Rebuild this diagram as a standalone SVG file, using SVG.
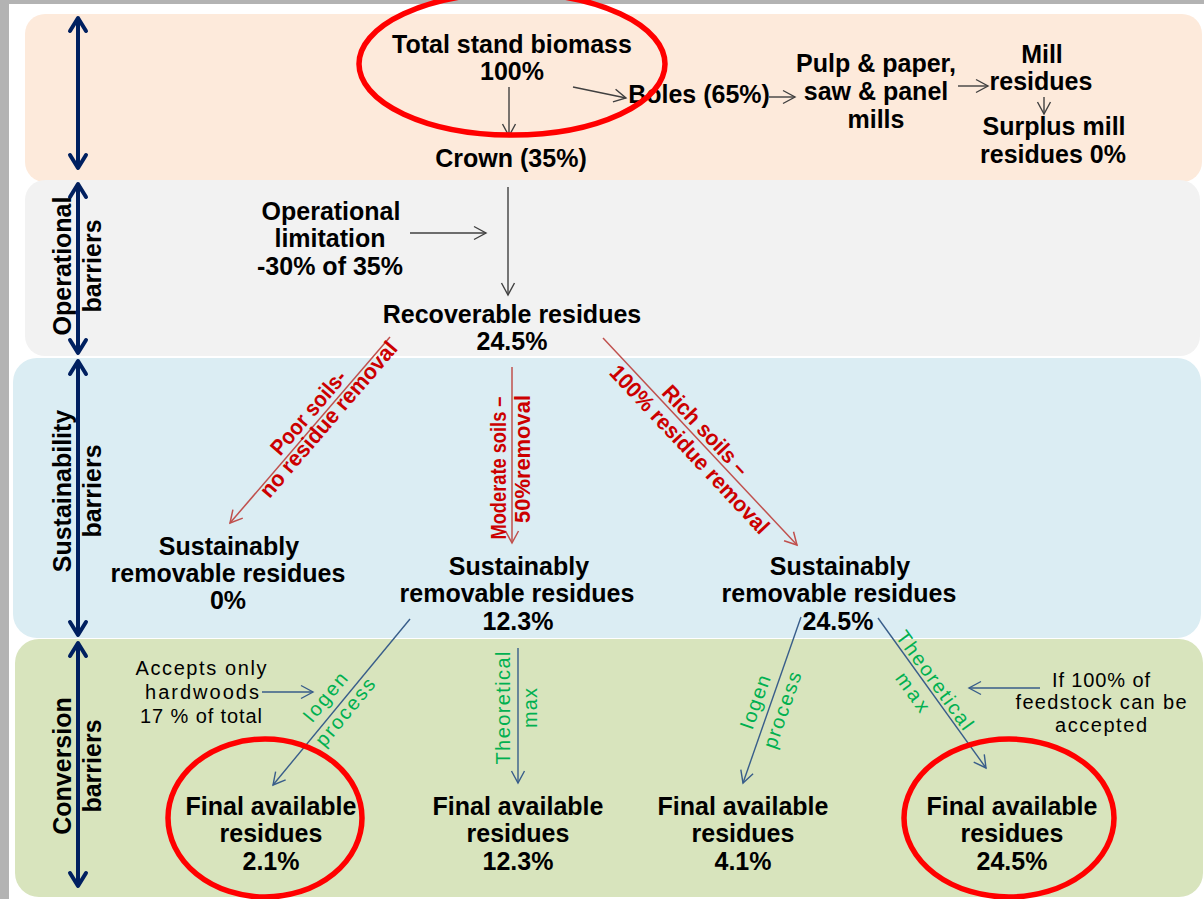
<svg xmlns="http://www.w3.org/2000/svg" width="1204" height="899" viewBox="0 0 1204 899">
  <style>
    .lbl { font-family: "Liberation Sans", Arial, sans-serif; font-weight: bold; font-size: 25px; fill: #000; text-anchor: middle; }
    .band { font-family: "Liberation Sans", Arial, sans-serif; font-weight: bold; font-size: 25px; fill: #000; text-anchor: middle; }
    .note { font-family: "Liberation Sans", Arial, sans-serif; font-size: 20px; fill: #000; text-anchor: middle; }
    .red { font-family: "Liberation Sans", Arial, sans-serif; font-weight: bold; font-size: 22px; fill: #cc0000; text-anchor: middle; }
    .grn { font-family: "Liberation Sans", Arial, sans-serif; font-size: 20px; fill: #00b050; text-anchor: middle; }
    .ln-k { stroke: #404040; stroke-width: 1.4; fill: none; marker-end: url(#ah-k); }
    .ln-r { stroke: #c0504d; stroke-width: 1.5; fill: none; marker-end: url(#ah-r); }
    .ln-b { stroke: #385d8a; stroke-width: 1.4; fill: none; marker-end: url(#ah-b); }
    .ln-n { stroke: #002060; stroke-width: 4; fill: none; marker-start: url(#ah-n); marker-end: url(#ah-n); }
    .ring { fill: none; stroke: #ff0000; stroke-width: 5.5; }
  </style>
  <defs>
    <marker id="ah-k" viewBox="0 0 14 14" refX="13" refY="7" markerWidth="14" markerHeight="14" markerUnits="userSpaceOnUse" orient="auto" overflow="visible">
      <path d="M1,0.5 L13,7 L1,13.5" fill="none" stroke="#404040" stroke-width="1.4"/>
    </marker>
    <marker id="ah-r" viewBox="0 0 14 14" refX="13" refY="7" markerWidth="14" markerHeight="14" markerUnits="userSpaceOnUse" orient="auto" overflow="visible">
      <path d="M1,0.5 L13,7 L1,13.5" fill="none" stroke="#c0504d" stroke-width="1.5"/>
    </marker>
    <marker id="ah-b" viewBox="0 0 14 14" refX="13" refY="7" markerWidth="14" markerHeight="14" markerUnits="userSpaceOnUse" orient="auto" overflow="visible">
      <path d="M1,0.5 L13,7 L1,13.5" fill="none" stroke="#385d8a" stroke-width="1.4"/>
    </marker>
    <marker id="ah-n" viewBox="0 0 18 18" refX="16" refY="9" markerWidth="18" markerHeight="18" markerUnits="userSpaceOnUse" orient="auto-start-reverse" overflow="visible">
      <path d="M3,1 L16,9 L3,17" fill="none" stroke="#002060" stroke-width="4" stroke-linecap="round" stroke-linejoin="round"/>
    </marker>
  </defs>

  <!-- page frame -->
  <rect x="0" y="0" width="1204" height="899" fill="#ffffff"/>
  <rect x="0" y="0" width="1204" height="4" fill="#b3b3b3"/>
  <rect x="0" y="0" width="9" height="899" fill="#b3b3b3"/>

  <!-- barrier bands -->
  <g id="bands">
    <rect id="band-stand" x="25" y="14" width="1177" height="168" rx="20" fill="#fdeadb"/>
    <rect id="band-operational" x="25" y="180" width="1175" height="176" rx="20" fill="#f2f2f2"/>
    <rect id="band-sustainability" x="13" y="358" width="1188" height="280" rx="24" fill="#dbedf3"/>
    <rect id="band-conversion" x="15" y="639" width="1188" height="258" rx="24" fill="#d8e4bd"/>
  </g>

  <!-- band extent arrows -->
  <g id="band-arrows">
    <line class="ln-n" x1="78" y1="18" x2="78" y2="168"/>
    <line class="ln-n" x1="78" y1="184" x2="78" y2="353"/>
    <line class="ln-n" x1="78" y1="361" x2="78" y2="635"/>
    <line class="ln-n" x1="78" y1="643" x2="78" y2="886"/>
  </g>

  <!-- band titles -->
  <g id="band-titles">
    <g id="t-operational" transform="translate(77,266) rotate(-90)">
      <text class="band" x="0" y="-6">Operational</text>
      <text class="band" x="0" y="24">barriers</text>
    </g>
    <g id="t-sustainability" transform="translate(77,491) rotate(-90)">
      <text class="band" x="0" y="-6">Sustainability</text>
      <text class="band" x="0" y="24">barriers</text>
    </g>
    <g id="t-conversion" transform="translate(77,766) rotate(-90)">
      <text class="band" x="0" y="-6">Conversion</text>
      <text class="band" x="0" y="24">barriers</text>
    </g>
  </g>

  <!-- connectors -->
  <g id="connectors">
    <line class="ln-k" x1="573" y1="87" x2="626" y2="98"/>
    <line class="ln-k" x1="769" y1="97" x2="795" y2="97"/>
    <line class="ln-k" x1="958" y1="86" x2="988" y2="86"/>
    <line class="ln-k" x1="1044" y1="97" x2="1044" y2="114"/>
    <line class="ln-k" x1="509" y1="87" x2="509" y2="136"/>
    <line class="ln-k" x1="508" y1="187" x2="508" y2="295"/>
    <line class="ln-k" x1="410" y1="233" x2="486" y2="233"/>

    <line class="ln-r" x1="390" y1="337" x2="230" y2="523"/>
    <line class="ln-r" x1="512" y1="367" x2="512" y2="543"/>
    <line class="ln-r" x1="603" y1="338" x2="797" y2="545"/>

    <line class="ln-b" x1="410" y1="619" x2="273" y2="785"/>
    <line class="ln-b" x1="518" y1="648" x2="518" y2="783"/>
    <line class="ln-b" x1="801" y1="617" x2="743" y2="783"/>
    <line class="ln-b" x1="878" y1="618" x2="986" y2="768"/>
    <line class="ln-b" x1="262" y1="692" x2="313" y2="692"/>
    <line class="ln-b" x1="1040" y1="688" x2="969" y2="688"/>
  </g>

  <!-- connector labels -->
  <g id="edge-labels">
    <g transform="translate(308,412) rotate(-49.3)"><text class="red" x="0" y="8" textLength="104" lengthAdjust="spacingAndGlyphs">Poor soils-</text></g>
    <g transform="translate(328,419) rotate(-49.3)"><text class="red" x="0" y="8" textLength="198" lengthAdjust="spacingAndGlyphs">no residue removal</text></g>
    <g transform="translate(498,468) rotate(-90)"><text class="red" x="0" y="8" textLength="143" lengthAdjust="spacingAndGlyphs">Moderate soils –</text></g>
    <g transform="translate(522,459) rotate(-90)"><text class="red" x="0" y="8" textLength="128" lengthAdjust="spacingAndGlyphs">50%removal</text></g>
    <g transform="translate(706,430) rotate(46.9)"><text class="red" x="0" y="8" textLength="115" lengthAdjust="spacingAndGlyphs">Rich soils –</text></g>
    <g transform="translate(690,449) rotate(46.9)"><text class="red" x="0" y="8" textLength="222" lengthAdjust="spacingAndGlyphs">100% residue removal</text></g>

    <g transform="translate(325,697) rotate(-50.5)"><text class="grn" x="0" y="7" textLength="58">Iogen</text></g>
    <g transform="translate(345,712) rotate(-50.5)"><text class="grn" x="0" y="7" textLength="82">process</text></g>
    <g transform="translate(503,708) rotate(-90)"><text class="grn" x="0" y="7" textLength="113">Theoretical</text></g>
    <g transform="translate(530,708) rotate(-90)"><text class="grn" x="0" y="7" textLength="40">max</text></g>
    <g transform="translate(755,702) rotate(-70.7)"><text class="grn" x="0" y="7" textLength="56">Iogen</text></g>
    <g transform="translate(782,710) rotate(-70.7)"><text class="grn" x="0" y="7" textLength="80">process</text></g>
    <g transform="translate(935,680) rotate(54.2)"><text class="grn" x="0" y="7" textLength="117">Theoretical</text></g>
    <g transform="translate(913,692) rotate(54.2)"><text class="grn" x="0" y="7" textLength="44">max</text></g>
  </g>

  <!-- nodes -->
  <g id="n-total">
    <text class="lbl" x="512" y="53">Total stand biomass</text>
    <text class="lbl" x="512" y="80">100%</text>
  </g>
  <g id="n-boles"><text class="lbl" x="699" y="103">Boles (65%)</text></g>
  <g id="n-mills">
    <text class="lbl" x="876" y="72">Pulp &amp; paper,</text>
    <text class="lbl" x="876" y="100">saw &amp; panel</text>
    <text class="lbl" x="876" y="128">mills</text>
  </g>
  <g id="n-mill-residues">
    <text class="lbl" x="1042" y="63">Mill</text>
    <text class="lbl" x="1041" y="90">residues</text>
  </g>
  <g id="n-surplus">
    <text class="lbl" x="1054" y="135">Surplus mill</text>
    <text class="lbl" x="1053" y="163">residues 0%</text>
  </g>
  <g id="n-crown"><text class="lbl" x="511" y="167">Crown (35%)</text></g>
  <g id="n-operational-limitation">
    <text class="lbl" x="331" y="220">Operational</text>
    <text class="lbl" x="330" y="247">limitation</text>
    <text class="lbl" x="330" y="275">-30% of 35%</text>
  </g>
  <g id="n-recoverable">
    <text class="lbl" x="512" y="323">Recoverable residues</text>
    <text class="lbl" x="512" y="350">24.5%</text>
  </g>
  <g id="n-sust-0">
    <text class="lbl" x="229" y="555">Sustainably</text>
    <text class="lbl" x="228" y="582">removable residues</text>
    <text class="lbl" x="228" y="609">0%</text>
  </g>
  <g id="n-sust-12">
    <text class="lbl" x="519" y="575">Sustainably</text>
    <text class="lbl" x="517" y="602">removable residues</text>
    <text class="lbl" x="518" y="630">12.3%</text>
  </g>
  <g id="n-sust-24">
    <text class="lbl" x="840" y="575">Sustainably</text>
    <text class="lbl" x="839" y="602">removable residues</text>
    <text class="lbl" x="838" y="630">24.5%</text>
  </g>
  <g id="n-hardwoods-note">
    <text class="note" x="201" y="675" textLength="131">Accepts only</text>
    <text class="note" x="202" y="699" textLength="114">hardwoods</text>
    <text class="note" x="201" y="723" textLength="122">17 % of total</text>
  </g>
  <g id="n-feedstock-note">
    <text class="note" x="1101" y="687" textLength="98">If 100% of</text>
    <text class="note" x="1101" y="709" textLength="171">feedstock can be</text>
    <text class="note" x="1101" y="732" textLength="92">accepted</text>
  </g>
  <g id="n-final-2">
    <text class="lbl" x="271" y="815">Final available</text>
    <text class="lbl" x="271" y="842">residues</text>
    <text class="lbl" x="271" y="870">2.1%</text>
  </g>
  <g id="n-final-12">
    <text class="lbl" x="518" y="815">Final available</text>
    <text class="lbl" x="518" y="842">residues</text>
    <text class="lbl" x="518" y="870">12.3%</text>
  </g>
  <g id="n-final-4">
    <text class="lbl" x="743" y="815">Final available</text>
    <text class="lbl" x="743" y="842">residues</text>
    <text class="lbl" x="743" y="870">4.1%</text>
  </g>
  <g id="n-final-24">
    <text class="lbl" x="1012" y="815">Final available</text>
    <text class="lbl" x="1012" y="842">residues</text>
    <text class="lbl" x="1012" y="870">24.5%</text>
  </g>

  <!-- highlight rings -->
  <g id="highlights">
    <ellipse class="ring" cx="512" cy="64" rx="153" ry="71"/>
    <ellipse class="ring" cx="265" cy="818" rx="97" ry="79"/>
    <ellipse class="ring" cx="1009" cy="818" rx="105" ry="79"/>
  </g>
</svg>
